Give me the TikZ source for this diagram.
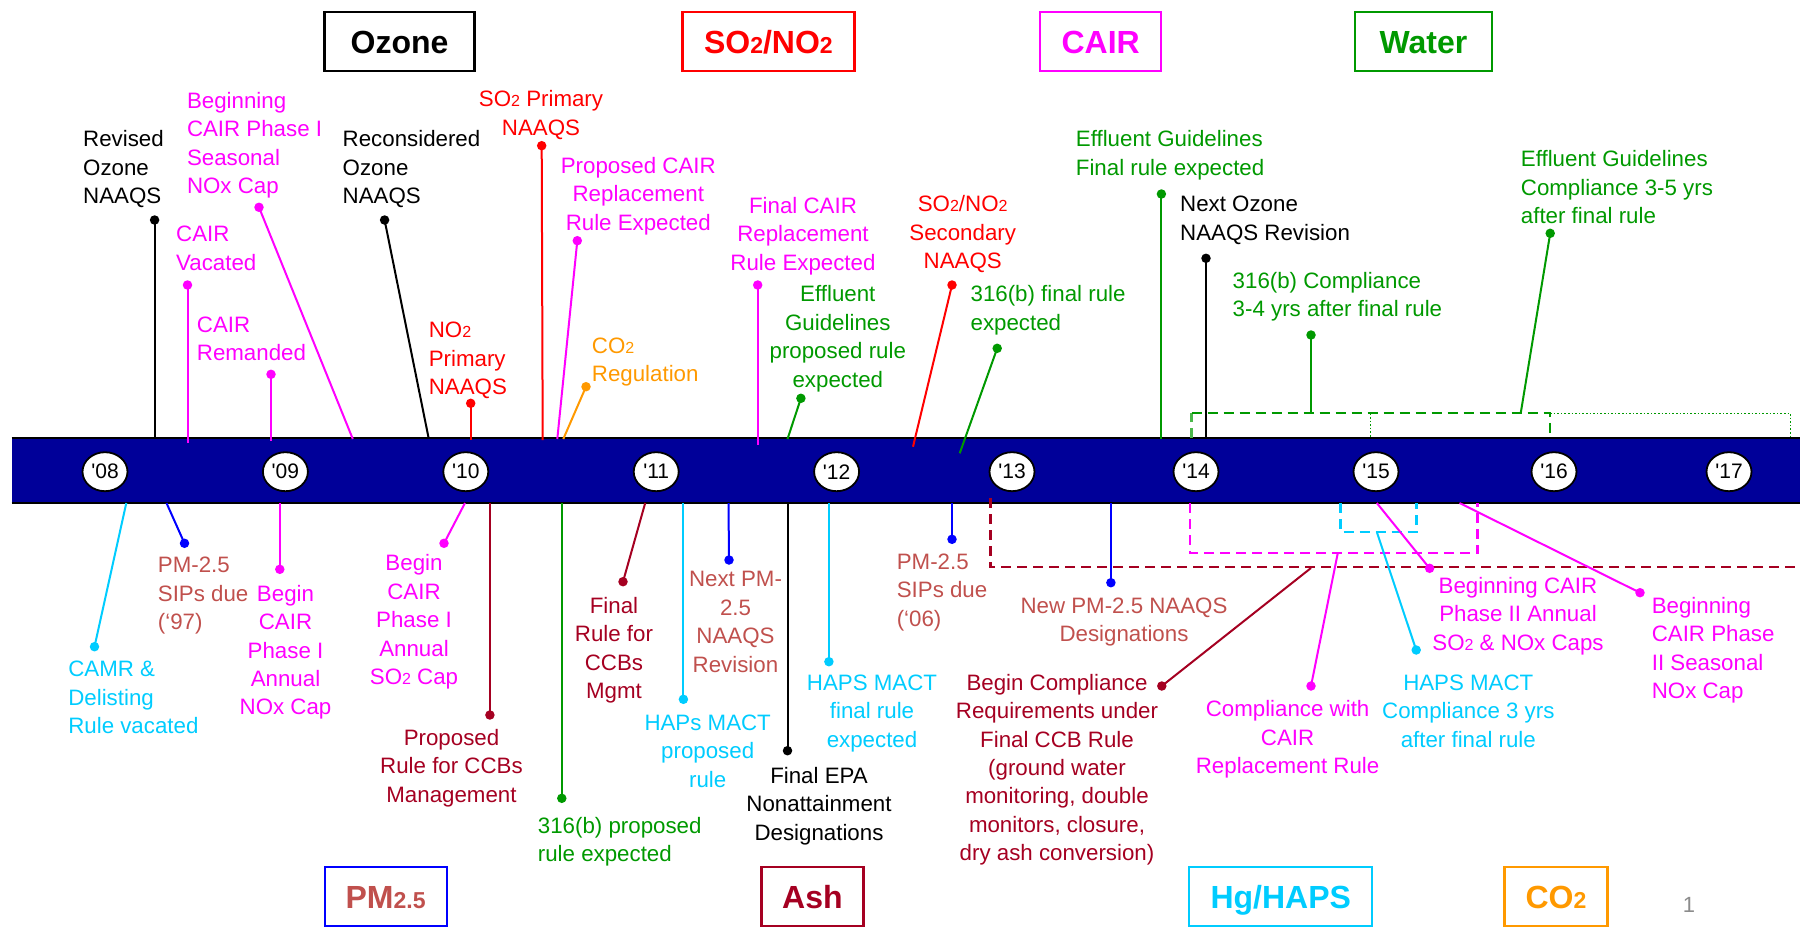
\documentclass[tikz,border=0pt]{standalone}
\usepackage{fontspec}
\usepackage{graphicx}
\setmainfont{Liberation Sans}
\usetikzlibrary{shapes.geometric}
\definecolor{mag}{HTML}{FF00FF}
\definecolor{redc}{HTML}{FF0000}
\definecolor{grn}{HTML}{009900}
\definecolor{cyn}{HTML}{00CCFF}
\definecolor{blu}{HTML}{0000FF}
\definecolor{ired}{HTML}{C0504D}
\definecolor{mar}{HTML}{A50021}
\definecolor{org}{HTML}{FF9900}
\definecolor{barb}{HTML}{000099}
\definecolor{pgray}{HTML}{8C8C8C}
\newcommand\sr{\rule{0pt}{20pt}}
\newcommand\sbs[1]{\scalebox{0.72}{#1}}
\newcommand\lblf{\fontsize{22.3}{28.4}\selectfont}
\newcommand\hdrf{\fontsize{32}{38}\selectfont\bfseries}
\newcommand\yrf{\fontsize{21}{24}\selectfont}
\tikzset{
  lbl/.style={font=\lblf, inner sep=0pt, yshift=20pt},
  lw/.style={lbl, anchor=north west, align=left},
  lc/.style={lbl, anchor=north, align=center},
  conn/.style={line width=2pt},
  dot/.style={circle, inner sep=0pt, minimum size=9.5pt},
  hdr/.style={draw, line width=2.2pt, inner sep=0pt, font=\hdrf, text height=23pt, text depth=0pt, minimum height=59pt},
  yr/.style={ellipse, draw=black, fill=white, line width=1.8pt, minimum width=45pt, minimum height=39pt, inner sep=0pt, font=\yrf},
  dsh/.style={line width=2.3pt, dash pattern=on 10pt off 6pt},
  dtt/.style={line width=1.5pt, dash pattern=on 1.6pt off 2pt}
}
\begin{document}
\begin{tikzpicture}[x=1pt,y=-1pt]
\useasboundingbox (0,0) rectangle (1800,927);
% header boxes
\node[hdr, draw=black, text=black, minimum width=150pt] (hOz) at (399.5,41.7) {Ozone};
\node[hdr, draw=redc, text=redc, minimum width=172pt] (hSO) at (768.4,41.7) {SO\sbs{2}/NO\sbs{2}};
\node[hdr, draw=mag, text=mag, minimum width=121pt] (hCA) at (1100.7,41.7) {CAIR};
\node[hdr, draw=grn, text=grn, minimum width=137pt] (hWa) at (1423.5,41.7) {Water};
\node[hdr, draw=blu, text=ired, minimum width=122pt] (hPM) at (385.6,896.5) {PM\sbs{2.5}};
\node[hdr, draw=mar, text=mar, minimum width=102pt] (hAs) at (812.4,896.5) {Ash};
\node[hdr, draw=cyn, text=cyn, minimum width=183pt] (hHg) at (1280.8,896.5) {Hg/HAPS};
\node[hdr, draw=org, text=org, minimum width=103pt] (hCO) at (1556,896.5) {CO\sbs{2}};
\node[font=\fontsize{22}{26}\selectfont, text=pgray, inner sep=0pt] (pg) at (1689,905) {1};
% timeline bar
\fill[barb] (11.7,438) rectangle (1800,503);
\draw[line width=2.5pt] (11.7,438) -- (1800,438);
\draw[line width=2.5pt] (11.7,503) -- (1800,503);
% green water bracket (top)
\coordinate (gA) at (1191.5,438); \coordinate (gB) at (1191.5,413.3);
\coordinate (gC) at (1550,413.3); \coordinate (gD) at (1550,438);
\coordinate (gE) at (1790.5,413.3); \coordinate (gF) at (1790.5,438);
\coordinate (gG) at (1370.6,413.3); \coordinate (gH) at (1370.6,438);
\draw[dsh, grn!70] (gA) -- (gB);
\draw[dsh, grn] (gB) -- (gC) -- (gD);
\draw[dtt, grn] (gC) -- (gE) -- (gF);
\draw[dtt, grn] (gG) -- (gH);
% maroon dashed bracket
\coordinate (mA) at (990.4,498); \coordinate (mB) at (990.4,567.3); \coordinate (mC) at (1800,567.3);
\draw[dsh, mar] (mA) -- (mB) -- (mC);
% magenta dashed bracket
\coordinate (pA) at (1190,503); \coordinate (pB) at (1190,553); \coordinate (pC) at (1477.5,553); \coordinate (pD) at (1477.5,503);
\draw[dsh, mag] (pA) -- (pB) -- (pC) -- (pD);
% cyan dashed bracket
\coordinate (cA) at (1340.6,503); \coordinate (cB) at (1340.6,532); \coordinate (cC) at (1416.6,532); \coordinate (cD) at (1416.6,503);
\draw[dsh, cyn] (cA) -- (cB) -- (cC) -- (cD);
% years
\node[yr] (y08) at (105,471.7) {\textquotesingle 08};
\node[yr] (y09) at (285.4,471.7) {\textquotesingle 09};
\node[yr] (y10) at (465.8,471.7) {\textquotesingle 10};
\node[yr] (y11) at (656.2,471.7) {\textquotesingle 11};
\node[yr] (y12) at (836.6,471.7) {\textquotesingle 12};
\node[yr] (y13) at (1012,471.7) {\textquotesingle 13};
\node[yr] (y14) at (1196,471.7) {\textquotesingle 14};
\node[yr] (y15) at (1376,471.7) {\textquotesingle 15};
\node[yr] (y16) at (1554,471.7) {\textquotesingle 16};
\node[yr] (y17) at (1729,471.7) {\textquotesingle 17};
% ===== top labels =====
\node[lw, text=black] (t1) at (83,146.7) {\sr Revised\\Ozone\\NAAQS};
\node[dot, fill=black] (d1) at (154.6,220) {}; \coordinate (e1) at (154.6,438);
\draw[conn, black] (d1.center) -- (e1);

\node[lw, text=mag] (t2) at (186.8,108.3) {\sr Beginning\\CAIR Phase I\\Seasonal\\NOx Cap};
\node[dot, fill=mag] (d2) at (259,207.3) {}; \coordinate (e2) at (352.8,439);
\draw[conn, mag] (d2.center) -- (e2);

\node[lw, text=mag] (t3) at (176,241.7) {\sr CAIR\\Vacated};
\node[dot, fill=mag] (d3) at (187.5,285) {}; \coordinate (e3) at (187.5,443);
\draw[conn, mag] (d3.center) -- (e3);

\node[lw, text=mag] (t4) at (196.7,332) {\sr CAIR\\Remanded};
\node[dot, fill=mag] (d4) at (271,374.3) {}; \coordinate (e4) at (271,441);
\draw[conn, mag] (d4.center) -- (e4);

\node[lw, text=black] (t5) at (342.5,146.7) {\sr Reconsidered\\Ozone\\NAAQS};
\node[dot, fill=black] (d5) at (384.6,220) {}; \coordinate (e5) at (428.6,438);
\draw[conn, black] (d5.center) -- (e5);

\node[lw, text=redc] (t6) at (428.6,337.5) {\sr NO\sbs{2}\\Primary\\NAAQS};
\node[dot, fill=redc] (d6) at (470.7,403.3) {}; \coordinate (e6) at (470.7,440);
\draw[conn, redc] (d6.center) -- (e6);

\node[lc, text=redc] (t7) at (541,106.7) {\sr SO\sbs{2} Primary\\NAAQS};
\node[dot, fill=redc] (d7) at (541.7,145.7) {}; \coordinate (e7) at (542.7,440);
\draw[conn, redc] (d7.center) -- (e7);

\node[lc, text=mag] (t8) at (638.3,173.3) {\sr Proposed CAIR\\Replacement\\Rule Expected};
\node[dot, fill=mag] (d8) at (577.3,240.7) {}; \coordinate (e8) at (557.3,439);
\draw[conn, mag] (d8.center) -- (e8);

\node[lw, text=org] (t9) at (591.7,353.3) {\sr CO\sbs{2}\\Regulation};
\node[dot, fill=org] (d9) at (586,386.7) {}; \coordinate (e9) at (563.3,439);
\draw[conn, org] (d9.center) -- (e9);

\node[lc, text=mag] (t10) at (803,213.3) {\sr Final CAIR\\Replacement\\Rule Expected};
\node[dot, fill=mag] (d10) at (757.7,285) {}; \coordinate (e10) at (757.7,445);
\draw[conn, mag] (d10.center) -- (e10);

\node[lc, text=grn] (t11) at (837.8,301.7) {\sr Effluent\\Guidelines\\proposed rule\\expected};
\node[dot, fill=grn] (d11) at (800.9,398.3) {}; \coordinate (e11) at (787.5,439);
\draw[conn, grn] (d11.center) -- (e11);

\node[lc, text=redc] (t12) at (962.7,211.7) {\sr SO\sbs{2}/NO\sbs{2}\\Secondary\\NAAQS};
\node[dot, fill=redc] (d12) at (952,285) {}; \coordinate (e12) at (913,446.7);
\draw[conn, redc] (d12.center) -- (e12);

\node[lw, text=grn] (t13) at (970.4,301.7) {\sr 316(b) final rule\\expected};
\node[dot, fill=grn] (d13) at (997.2,348.3) {}; \coordinate (e13) at (959.7,453.3);
\draw[conn, grn] (d13.center) -- (e13);

\node[lw, text=grn] (t14) at (1075.7,146.7) {\sr Effluent Guidelines\\Final rule expected};
\node[dot, fill=grn] (d14) at (1161.4,194) {}; \coordinate (e14) at (1161.4,439);
\draw[conn, grn] (d14.center) -- (e14);

\node[lw, text=black] (t15) at (1180,211.7) {\sr Next Ozone\\NAAQS Revision};
\node[dot, fill=black] (d15) at (1206,258.3) {}; \coordinate (e15) at (1206,439);
\draw[conn, black] (d15.center) -- (e15);

\node[lw, text=grn] (t16) at (1232.5,288.3) {\sr 316(b) Compliance\\3-4 yrs after final rule};
\node[dot, fill=grn] (d16) at (1311,335) {}; \coordinate (e16) at (1311,413.3);
\draw[conn, grn] (d16.center) -- (e16);

\node[lw, text=grn] (t17) at (1520.7,166.7) {\sr Effluent Guidelines\\Compliance 3-5 yrs\\after final rule};
\node[dot, fill=grn] (d17) at (1550.2,233.3) {}; \coordinate (e17) at (1520.7,413.3);
\draw[conn, grn] (d17.center) -- (e17);
% ===== bottom labels =====
\node[lw, text=cyn] (b1) at (68.1,676.7) {\sr CAMR \&\\Delisting\\Rule vacated};
\node[dot, fill=cyn] (f1) at (94.5,646.7) {}; \coordinate (s1) at (126.3,503);
\draw[conn, cyn] (f1.center) -- (s1);

\node[lw, text=ired] (b2) at (157.7,572.7) {\sr PM-2.5\\SIPs due\\(`97)};
\node[dot, fill=blu] (f2) at (184.5,543.3) {}; \coordinate (s2) at (166.5,503);
\draw[conn, blu] (f2.center) -- (s2);

\node[lc, text=mag] (b3) at (285.5,601) {\sr Begin\\CAIR\\Phase I\\Annual\\NOx Cap};
\node[dot, fill=mag] (f3) at (279.8,569.3) {}; \coordinate (s3) at (279.8,503);
\draw[conn, mag] (f3.center) -- (s3);

\node[lc, text=mag] (b4) at (414,570.7) {\sr Begin\\CAIR\\Phase I\\Annual\\SO\sbs{2} Cap};
\node[dot, fill=mag] (f4) at (444,543.3) {}; \coordinate (s4) at (465,503);
\draw[conn, mag] (f4.center) -- (s4);

\node[lc, text=mar] (b5) at (451.5,745) {\sr Proposed\\Rule for CCBs\\Management};
\node[dot, fill=mar] (f5) at (489.9,715) {}; \coordinate (s5) at (489.9,503);
\draw[conn, mar] (f5.center) -- (s5);

\node[lw, text=grn] (b6) at (537.7,833.3) {\sr 316(b) proposed\\rule expected};
\node[dot, fill=grn] (f6) at (561.8,798.3) {}; \coordinate (s6) at (561.8,503);
\draw[conn, grn] (f6.center) -- (s6);

\node[lc, text=mar] (b7) at (614,613.3) {\sr Final\\Rule for\\CCBs\\Mgmt};
\node[dot, fill=mar] (f7) at (623,581.7) {}; \coordinate (s7) at (645.2,503);
\draw[conn, mar] (f7.center) -- (s7);

\node[lc, text=cyn] (b8) at (707.7,730) {\sr HAPs MACT\\proposed\\rule};
\node[dot, fill=cyn] (f8) at (683.4,699.3) {}; \coordinate (s8) at (683.4,503);
\draw[conn, cyn] (f8.center) -- (s8);

\node[lc, text=ired] (b9) at (735.5,586.7) {\sr Next PM-\\2.5\\NAAQS\\Revision};
\node[dot, fill=blu] (f9) at (729,560) {}; \coordinate (s9) at (728.5,503);
\draw[conn, blu] (f9.center) -- (s9);

\node[lc, text=black] (b10) at (819,783.3) {\sr Final EPA\\Nonattainment\\Designations};
\node[dot, fill=black] (f10) at (787.5,750.7) {}; \coordinate (s10) at (787.5,503);
\draw[conn, black] (f10.center) -- (s10);

\node[lc, text=cyn] (b11) at (872,690) {\sr HAPS MACT\\final rule\\expected};
\node[dot, fill=cyn] (f11) at (828.9,661.7) {}; \coordinate (s11) at (828.9,503);
\draw[conn, cyn] (f11.center) -- (s11);

\node[lw, text=ired] (b12) at (896.6,569.3) {\sr PM-2.5\\SIPs due\\(`06)};
\node[dot, fill=blu] (f12) at (952,539.3) {}; \coordinate (s12) at (952,503);
\draw[conn, blu] (f12.center) -- (s12);

\node[lc, text=ired] (b13) at (1124,613.3) {\sr New PM-2.5 NAAQS\\Designations};
\node[dot, fill=blu] (f13) at (1110.9,582.7) {}; \coordinate (s13) at (1110.9,503);
\draw[conn, blu] (f13.center) -- (s13);

\node[lc, text=mar] (b14) at (1057,690) {\sr Begin Compliance\\Requirements under\\Final CCB Rule\\(ground water\\monitoring, double\\monitors, closure,\\dry ash conversion)};
\node[dot, fill=mar] (f14) at (1161.8,686) {}; \coordinate (s14) at (1311,568);
\draw[conn, mar] (f14.center) -- (s14);

\node[lc, text=mag] (b15) at (1287.6,716.7) {\sr Compliance with\\CAIR\\Replacement Rule};
\node[dot, fill=mag] (f15) at (1311,686) {}; \coordinate (s15) at (1337.8,553);
\draw[conn, mag] (f15.center) -- (s15);

\node[lc, text=cyn] (b16) at (1468.3,690) {\sr HAPS MACT\\Compliance 3 yrs\\after final rule};
\node[dot, fill=cyn] (f16) at (1416.2,650) {}; \coordinate (s16) at (1376.8,532);
\draw[conn, cyn] (f16.center) -- (s16);

\node[lc, text=mag] (b17) at (1518,593.3) {\sr Beginning CAIR\\Phase II Annual\\SO\sbs{2} \& NOx Caps};
\node[dot, fill=mag] (f17) at (1429.6,568.3) {}; \coordinate (s17) at (1376.8,503);
\draw[conn, mag] (f17.center) -- (s17);

\node[lw, text=mag] (b18) at (1651.6,613.3) {\sr Beginning\\CAIR Phase\\II Seasonal\\NOx Cap};
\node[dot, fill=mag] (f18) at (1640,592.7) {}; \coordinate (s18) at (1459.5,503);
\draw[conn, mag] (f18.center) -- (s18);
\end{tikzpicture}
\end{document}
